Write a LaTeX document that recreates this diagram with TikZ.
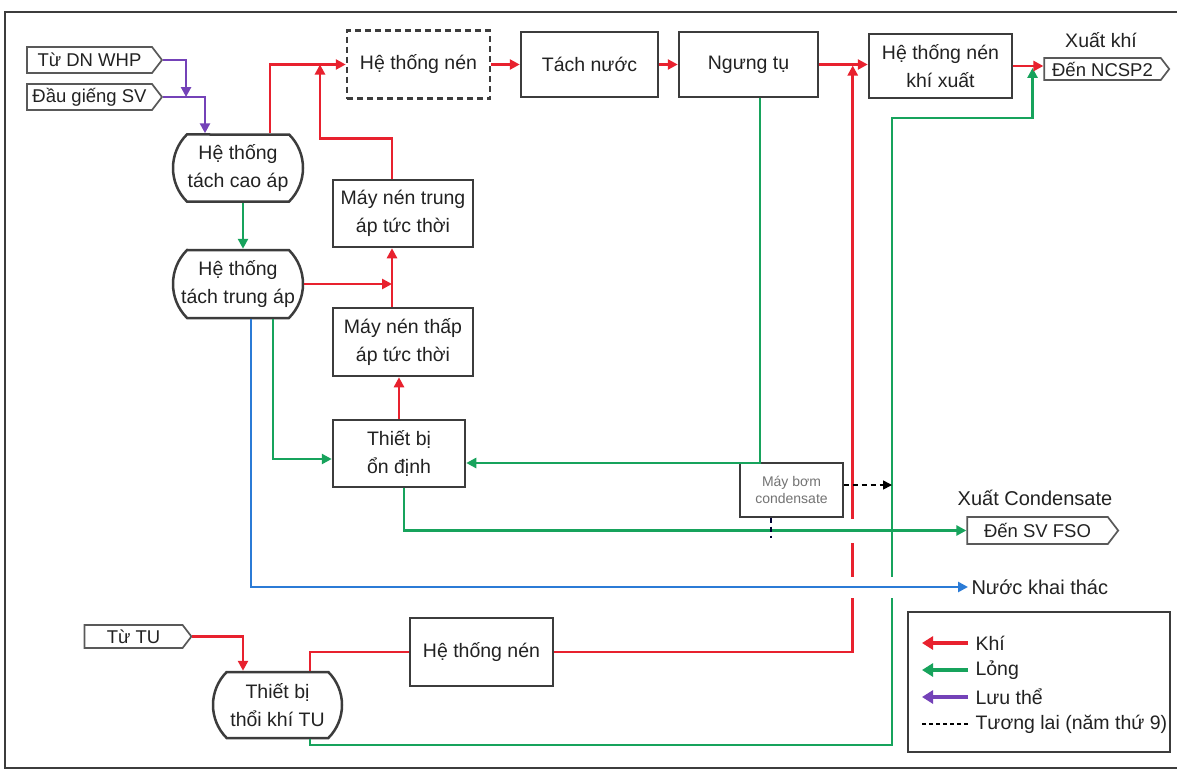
\documentclass[tikz,border=0pt]{standalone}
\usepackage{fontspec}
\setmainfont{Liberation Sans}
\usetikzlibrary{shapes.symbols,shapes.misc,arrows.meta,calc}
\definecolor{cgas}{HTML}{E8212E}
\definecolor{cliq}{HTML}{17A35C}
\definecolor{cwat}{HTML}{2B7BD6}
\definecolor{cflu}{HTML}{7442B8}
\definecolor{cbox}{HTML}{3C3C3C}
\definecolor{ctxt}{HTML}{222222}
\begin{document}
\begin{tikzpicture}[x=1pt,y=-1pt,
  every node/.style={font=\fontsize{19.5}{28}\selectfont, text=ctxt},
  box/.style={draw=cbox, line width=2.5pt, fill=white, inner sep=0pt, align=center},
  roundbox/.style={box, rounded rectangle, rounded rectangle arc length=90},
  tagbox/.style={draw=cbox!85, line width=1.7pt, fill=white, signal, signal to=east,
    signal pointer angle=105, inner sep=0pt, font=\fontsize{18.5}{20}\selectfont},
  tip/.style={-{Triangle[length=10pt,width=10pt]}},
  gasline/.style={draw=cgas, line width=2.7pt},
  gas/.style={gasline, tip},
  liquid/.style={draw=cliq, line width=2.7pt, tip},
  water/.style={draw=cwat, line width=2.7pt, tip},
  fluid/.style={draw=cflu, line width=2.7pt, tip},
  future/.style={draw=black, line width=1.6pt, dash pattern=on 5pt off 4pt},
  gap/.style={draw=white, line width=6pt},
  legarrow/.style={line width=4pt, -{Triangle[length=11pt,width=13pt]}}
]
\useasboundingbox (0,0) rectangle (1177,771);
\fill[white] (0,0) rectangle (1177,771);
% outer frame
\draw[cbox, line width=2.5pt] (1185,12) -- (5,12) -- (5,768) -- (1185,768);

% nodes
\node[tagbox, minimum width=135, minimum height=26] (whp) at (89.5,60) {Từ DN WHP};
\node[tagbox, minimum width=135, minimum height=26] (sv) at (89.5,97) {Đầu giếng SV};
\node[roundbox, minimum width=130, minimum height=67] (cao) at (238,168) {Hệ thống\\tách cao áp};
\node[roundbox, minimum width=130, minimum height=68] (trung) at (238,284) {Hệ thống\\tách trung áp};
\node[box, dash pattern=on 6pt off 4pt, minimum width=143, minimum height=68] (nen1) at (418.5,64.5) {Hệ thống nén};
\node[box, minimum width=137, minimum height=65] (tachnuoc) at (589.5,64.5) {Tách nước};
\node[box, minimum width=139, minimum height=65] (ngung) at (748.5,64.5) {Ngưng tụ};
\node[box, minimum width=143, minimum height=64] (nenxuat) at (940.5,66) {Hệ thống nén\\khí xuất};
\node[tagbox, minimum width=125, minimum height=22] (ncsp2) at (1102.5,69) {Đến NCSP2};
\node[font=\fontsize{19.5}{22}\selectfont] (xkhi) at (1101,40) {Xuất khí};
\node[box, minimum width=140, minimum height=67] (mntrung) at (403,213.5) {Máy nén trung\\áp tức thời};
\node[box, minimum width=140, minimum height=68] (mnthap) at (403,342) {Máy nén thấp\\áp tức thời};
\node[box, minimum width=132, minimum height=67] (ondinh) at (399,453.5) {Thiết bị\\ổn định};
\node[box, line width=1.4pt, minimum width=103, minimum height=54, text=black!55,
  font=\fontsize{14}{17}\selectfont] (bom) at (791.5,490) {Máy bơm\\condensate};
\node[font=\fontsize{20}{22}\selectfont] (xcond) at (1035,498) {Xuất Condensate};
\node[tagbox, minimum width=151, minimum height=27] (fso) at (1037.5,530.5) {Đến SV FSO};
\node[anchor=west, font=\fontsize{20}{22}\selectfont] (nuoc) at (968,587) {Nước khai thác};
\node[tagbox, minimum width=107, minimum height=23] (tu) at (133.5,636.5) {Từ TU};
\node[roundbox, minimum width=129, minimum height=66] (thoi) at (277.5,705) {Thiết bị\\thổi khí TU};
\node[box, minimum width=143, minimum height=68] (nen2) at (481.5,652) {Hệ thống nén};

% junction coordinates
\path (ngung.east) -- (nenxuat.west) coordinate[pos=0.69] (j2);
\path (nenxuat.east) -- (ncsp2.west) coordinate[pos=0.64] (j3);
\coordinate (j1) at (320,64.5);
\coordinate (g1) at (892,745);
\coordinate (g2) at (892,118);

% long verticals (drawn first, broken where lines cross)
\draw[gas] (nen2.east) -| (j2);
\draw[liquid] ([xshift=32.5pt]thoi.south) |- (g1) -- (g2) -| (j3);
\draw[gap] ($(j2 |- fso.west)+(0,-12)$) -- ($(j2 |- fso.west)+(0,12)$);
\draw[gap] ($(j2 |- nuoc.west)+(0,-10.5)$) -- ($(j2 |- nuoc.west)+(0,10.5)$);
\draw[gap] ($(g1 |- nuoc.west)+(0,-10.5)$) -- ($(g1 |- nuoc.west)+(0,10.5)$);

% purple
\draw[fluid] (whp.east) -| ($(sv.east)+(23,0)$);
\draw[fluid] (sv.east) -| ([xshift=-33pt]cao.north);
% green cao -> trung
\draw[liquid] ([xshift=5pt]cao.south) -- ([xshift=5pt]trung.north);
% gas main line
\draw[gas] ([xshift=32pt]cao.north) |- (nen1.west);
\draw[gas] ([xshift=-11pt]mntrung.north) |- ++(0,-40) -| (j1);
\coordinate (v1) at ([xshift=-11pt]mnthap.north);
\draw[gas] (v1) -- ([xshift=-11pt]mntrung.south);
\draw[gas] (trung.east) -- (trung.east -| v1);
\draw[gas] (ondinh.north) -- (ondinh.north |- mnthap.south);
\draw[gas] (nen1.east) -- (nen1.east -| tachnuoc.west);
\draw[gas] (tachnuoc.east) -- (tachnuoc.east -| ngung.west);
\draw[gas] (ngung.east) -- (ngung.east -| nenxuat.west);
\draw[gas] (nenxuat.east) -- (nenxuat.east -| ncsp2.west);
% liquids
\draw[liquid] ([xshift=11.5pt]ngung.south) |- ([yshift=-9.5pt]ondinh.east);
\draw[liquid] ([xshift=35pt]trung.south) |- ([yshift=-5.5pt]ondinh.west);
\draw[liquid] ([xshift=5pt]ondinh.south) |- (fso.west);
% water
\draw[water] ([xshift=13pt]trung.south) |- (nuoc.west);
% TU
\draw[gas] (tu.east) -| ([xshift=-34.5pt]thoi.north);
\draw[gasline] ([xshift=32.5pt]thoi.north) |- (nen2.west);
% future
\draw[future, -{Triangle[length=9pt,width=9pt]}] ([yshift=5pt]bom.east) -- ([yshift=5pt]bom.east -| g1);
\draw[future, draw=black!80!blue] ([xshift=-20.5pt]bom.south) -- ++(0,20);

% legend
\node[draw=cbox, line width=2.5pt, minimum width=262, minimum height=140, inner sep=0pt] (leg) at (1039,682) {};
\node[anchor=west] (lkhi) at (972,643) {Khí};
\node[anchor=west] (llong) at (972,670) {Lỏng};
\node[anchor=west] (lluu) at (972,697) {Lưu thể};
\node[anchor=west] (ltl) at (972,724) {Tương lai (năm thứ 9)};
\draw[legarrow, draw=cgas] ([xshift=-4pt]lkhi.west) -- ++(-46,0);
\draw[legarrow, draw=cliq] ([xshift=-4pt]llong.west) -- ++(-46,0);
\draw[legarrow, draw=cflu] ([xshift=-4pt]lluu.west) -- ++(-46,0);
\draw[future, line width=1.4pt, dash pattern=on 4pt off 3pt] ([xshift=-4pt]ltl.west) -- ++(-46,0);
\end{tikzpicture}
\end{document}
